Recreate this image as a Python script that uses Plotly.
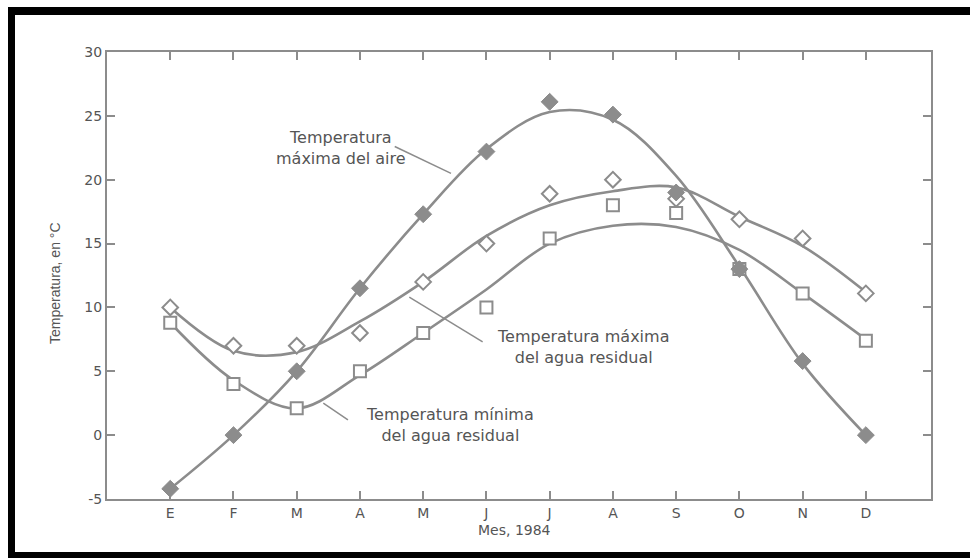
import plotly.graph_objects as go

# ---------------- data ----------------
month_labels = ["E", "F", "M", "A", "M", "J", "J", "A", "S", "O", "N", "D"]
month_pos = list(range(12))

# measured points
air_max = [-4.2, 0.0, 5.0, 11.5, 17.3, 22.2, 26.1, 25.1, 19.0, 13.0, 5.8, 0.0]
water_max = [10.0, 7.0, 7.0, 8.0, 12.0, 15.0, 18.9, 20.0, 18.5, 16.9, 15.4, 11.1]
water_min = [8.8, 4.0, 2.1, 5.0, 8.0, 10.0, 15.4, 18.0, 17.4, 13.0, 11.1, 7.4]

# fitted (smoothed) curves, read at each month
air_max_fit = [-4.2, 0.0, 5.0, 11.5, 17.3, 22.4, 25.3, 24.7, 20.3, 13.2, 5.6, 0.0]
water_max_fit = [10.0, 6.6, 6.5, 8.9, 12.0, 15.6, 18.0, 19.1, 19.4, 17.1, 14.8, 11.2]
water_min_fit = [8.8, 4.3, 2.1, 4.7, 8.0, 11.4, 15.0, 16.4, 16.3, 14.5, 11.1, 7.5]

y_ticks = [-5, 0, 5, 10, 15, 20, 25, 30]
y_tick_labels = ["-5", "0", "5", "10", "15", "20", "25", "30"]

# ---------------- styling ----------------
GRAY = "#8c8c8c"
TEXT = "#555555"
W, H = 970, 558
ML, MR, MT, MB = 107, 39, 52, 59
PW, PH = W - ML - MR, H - MT - MB


def px_x(p):
    """page pixel x -> paper coordinate"""
    return (p - ML) / PW


def px_y(p):
    """page pixel y -> paper coordinate"""
    return (H - MB - p) / PH


fig = go.Figure()

for fit in (water_max_fit, water_min_fit, air_max_fit):
    fig.add_trace(go.Scatter(
        x=month_pos, y=fit, mode="lines",
        line=dict(color=GRAY, width=2.6, shape="spline", smoothing=1.0),
        hoverinfo="skip", showlegend=False))

fig.add_trace(go.Scatter(
    x=month_pos, y=water_max, mode="markers", name="Temperatura máxima del agua residual",
    marker=dict(symbol="diamond", size=12, color="white", line=dict(color=GRAY, width=2)),
    showlegend=False))
fig.add_trace(go.Scatter(
    x=month_pos, y=water_min, mode="markers", name="Temperatura mínima del agua residual",
    marker=dict(symbol="square", size=12, color="white", line=dict(color=GRAY, width=2)),
    showlegend=False))
fig.add_trace(go.Scatter(
    x=month_pos, y=air_max, mode="markers", name="Temperatura máxima del aire",
    marker=dict(symbol="diamond", size=13, color=GRAY, line=dict(color=GRAY, width=1)),
    showlegend=False))

ann_font = dict(family="DejaVu Sans", size=16, color=TEXT)
annotations = [
    dict(x=2.70, y=22.5, xref="x", yref="y", text="Temperatura<br>máxima del aire",
         showarrow=False, font=ann_font, align="center"),
    dict(x=6.52, y=6.9, xref="x", yref="y", text="Temperatura máxima<br>del agua residual",
         showarrow=False, font=ann_font, align="center"),
    dict(x=4.42, y=0.78, xref="x", yref="y", text="Temperatura mínima<br>del agua residual",
         showarrow=False, font=ann_font, align="center"),
    dict(x=px_x(45), y=px_y(283), xref="paper", yref="paper", text="Temperatura, en °C",
         textangle=-90, showarrow=False,
         font=dict(family="Liberation Sans", size=14, color=TEXT)),
    dict(x=px_x(514), y=px_y(540), xref="paper", yref="paper", text="Mes, 1984",
         showarrow=False, font=dict(family="DejaVu Sans", size=14, color=TEXT)),
]

shapes = [
    # leader lines
    dict(type="line", xref="x", yref="y", x0=3.55, y0=22.6, x1=4.44, y1=20.5,
         line=dict(color=GRAY, width=1.5)),
    dict(type="line", xref="x", yref="y", x0=3.78, y0=10.8, x1=4.94, y1=7.3,
         line=dict(color=GRAY, width=1.5)),
    dict(type="line", xref="x", yref="y", x0=2.42, y0=2.5, x1=2.81, y1=1.2,
         line=dict(color=GRAY, width=1.5)),
    # black frame of the scanned figure
    dict(type="rect", xref="paper", yref="paper", x0=px_x(8), x1=px_x(975),
         y0=px_y(15), y1=px_y(7), fillcolor="black", line=dict(width=0), layer="above"),
    dict(type="rect", xref="paper", yref="paper", x0=px_x(8), x1=px_x(15),
         y0=px_y(562), y1=px_y(7), fillcolor="black", line=dict(width=0), layer="above"),
    dict(type="rect", xref="paper", yref="paper", x0=px_x(8), x1=px_x(975),
         y0=px_y(562), y1=px_y(552), fillcolor="black", line=dict(width=0), layer="above"),
]

fig.update_layout(
    width=W, height=H,
    margin=dict(l=ML, r=MR, t=MT, b=MB, pad=0),
    paper_bgcolor="white", plot_bgcolor="white",
    annotations=annotations, shapes=shapes,
    showlegend=False,
)
fig.update_xaxes(
    range=[-1.0, 12.03], tickvals=month_pos, ticktext=month_labels,
    showgrid=False, zeroline=False, showline=True, linecolor=GRAY, linewidth=2,
    mirror="ticks", ticks="inside", ticklen=8, tickwidth=2, tickcolor=GRAY,
    tickfont=dict(family="DejaVu Sans", size=14, color=TEXT),
)
fig.update_yaxes(
    range=[-5, 30], tickvals=y_ticks, ticktext=y_tick_labels,
    showgrid=False, zeroline=False, showline=True, linecolor=GRAY, linewidth=2,
    mirror="ticks", ticks="inside", ticklen=8, tickwidth=2, tickcolor=GRAY,
    tickfont=dict(family="DejaVu Sans", size=14, color=TEXT),
)

fig.write_html("out.html",
               config={"displayModeBar": False},
               post_script="document.body.style.margin='0';"
                           "document.documentElement.style.overflow='hidden';"
                           "document.body.style.overflow='hidden';")
